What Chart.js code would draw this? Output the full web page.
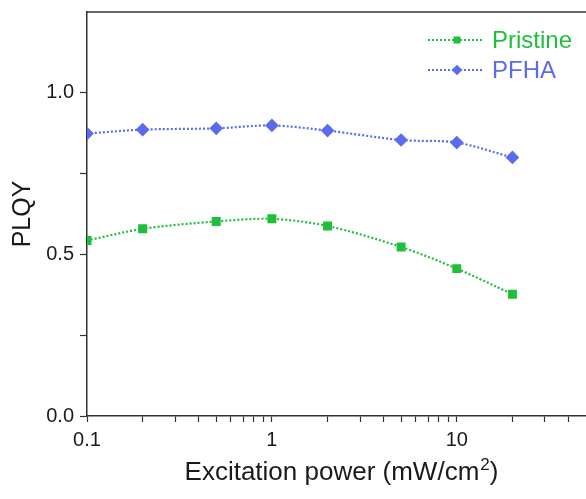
<!DOCTYPE html>
<html>
<head>
<meta charset="utf-8">
<script src="https://cdn.jsdelivr.net/npm/chart.js@4"></script>
<style>
    html, body { margin: 0; padding: 0; background: #fff; }
    #wrap { width: 586px; height: 499px; }
</style>
</head>
<body>
<div id="wrap"><canvas id="plqyChart"></canvas></div>
<script>
const power = [0.1, 0.2, 0.5, 1, 2, 5, 10, 20];
const pristine = [0.543, 0.579, 0.602, 0.610, 0.588, 0.523, 0.456, 0.377];
const pfha = [0.874, 0.886, 0.890, 0.899, 0.883, 0.854, 0.846, 0.800];
const seriesNames = ["Pristine", "PFHA"];
const yTicks = [0, 0.25, 0.5, 0.75, 1.0];
const yLabels = [0, 0.5, 1.0];
const xLabels = [0.1, 1, 10];
const xTitle = ["Excitation power (mW/cm", "2", ")"];
const yTitle = "PLQY";

const green = "#1fbf3c";
const blue = "#5b6bf0";
const axisColor = "#333";
const textColor = "#1a1a1a";
const font = "'Liberation Sans', Arial, sans-serif";

// minor ticks for the log axis: 0.1..0.9, 1..9, 10..40
const xTicks = [];
for (const dec of [0.1, 1, 10]) {
    for (let m = 1; m <= 9; m++) {
        const v = +(m * dec).toPrecision(3);
        if (v <= 40) xTicks.push(v);
    }
}

// top frame line, axis titles and the dotted legend
const framePlugin = {
    id: "frame",
    afterDraw(chart) {
        const { ctx, chartArea } = chart;
        ctx.save();
        ctx.strokeStyle = axisColor;
        ctx.lineWidth = 1.5;
        ctx.beginPath();
        ctx.moveTo(chartArea.left, chartArea.top);
        ctx.lineTo(chartArea.right + 2, chartArea.top);
        ctx.stroke();

        // x title with a real superscript
        ctx.fillStyle = textColor;
        ctx.textBaseline = "alphabetic";
        ctx.font = "26px " + font;
        const w0 = ctx.measureText(xTitle[0]).width;
        const w2 = ctx.measureText(xTitle[2]).width;
        ctx.font = "17px " + font;
        const w1 = ctx.measureText(xTitle[1]).width;
        const total = w0 + w1 + w2 + 1;
        let tx = chartArea.left + (chartArea.right - chartArea.left) * 0.51 - total / 2;
        const ty = chartArea.bottom + 64;
        ctx.font = "26px " + font;
        ctx.textAlign = "left";
        ctx.fillText(xTitle[0], tx, ty);
        tx += w0 + 1;
        ctx.font = "17px " + font;
        ctx.fillText(xTitle[1], tx, ty - 10);
        tx += w1;
        ctx.font = "26px " + font;
        ctx.fillText(xTitle[2], tx, ty);

        // y title
        ctx.save();
        ctx.translate(23, (chartArea.top + chartArea.bottom) / 2);
        ctx.rotate(-Math.PI / 2);
        ctx.textAlign = "center";
        ctx.textBaseline = "middle";
        ctx.font = "25px " + font;
        ctx.fillText(yTitle, 0, 0);
        ctx.restore();

        chart.data.datasets.forEach((ds, i) => {
            const y = chartArea.top + 28 + i * 30;
            const x0 = chartArea.right - 158;
            ctx.strokeStyle = ds.borderColor;
            ctx.lineWidth = ds.borderWidth;
            ctx.setLineDash(ds.borderDash);
            ctx.beginPath();
            ctx.moveTo(x0, y);
            ctx.lineTo(x0 + 55, y);
            ctx.stroke();
            ctx.setLineDash([]);
            ctx.fillStyle = ds.borderColor;
            ctx.beginPath();
            const cx = x0 + 29, r = ds.pointRadius;
            if (ds.pointStyle === "rect") {
                ctx.rect(cx - r * 0.72, y - r * 0.72, r * 1.44, r * 1.44);
            } else {
                ctx.moveTo(cx, y - r);
                ctx.lineTo(cx + r, y);
                ctx.lineTo(cx, y + r);
                ctx.lineTo(cx - r, y);
                ctx.closePath();
            }
            ctx.fill();
            ctx.font = "24px " + font;
            ctx.textAlign = "left";
            ctx.textBaseline = "middle";
            ctx.fillText(ds.label, x0 + 64, y + 1);
        });
        ctx.restore();
    }
};

const ctx = document.getElementById("plqyChart").getContext("2d");
new Chart(ctx, {
    type: "line",
    data: {
        datasets: [
            {
                label: seriesNames[0],
                data: power.map((p, i) => ({ x: p, y: pristine[i] })),
                borderColor: green,
                backgroundColor: green,
                borderWidth: 2.2,
                borderDash: [2, 2],
                pointStyle: "rect",
                pointRadius: 4.8,
                tension: 0.3,
                clip: 0
            },
            {
                label: seriesNames[1],
                data: power.map((p, i) => ({ x: p, y: pfha[i] })),
                borderColor: blue,
                backgroundColor: blue,
                borderWidth: 2.2,
                borderDash: [2, 2],
                pointStyle: "rectRot",
                pointRadius: 5.3,
                tension: 0.3,
                clip: 0
            }
        ]
    },
    options: {
        responsive: true,
        maintainAspectRatio: false,
        animation: false,
        layout: { autoPadding: false, padding: { top: 12, right: 0, left: 0, bottom: 0 } },
        plugins: {
            legend: { display: false },
            tooltip: { enabled: false }
        },
        scales: {
            x: {
                type: "logarithmic",
                min: 0.1,
                max: 50,
                afterBuildTicks: axis => { axis.ticks = xTicks.map(v => ({ value: v })); },
                afterFit: axis => {
                    axis.height = 83;
                    axis.paddingLeft = 0;
                    axis.paddingRight = 0;
                },
                grid: { drawOnChartArea: false, tickLength: 6, tickColor: axisColor, tickWidth: 1.2 },
                border: { color: axisColor, width: 1.5 },
                ticks: {
                    autoSkip: false,
                    maxRotation: 0,
                    color: textColor,
                    font: { size: 20, family: font },
                    padding: 6,
                    callback: v => xLabels.includes(v) ? String(v) : ""
                }
            },
            y: {
                min: 0,
                max: 1.25,
                afterBuildTicks: axis => { axis.ticks = yTicks.map(v => ({ value: v })); },
                afterFit: axis => {
                    axis.width = 87;
                    axis.paddingTop = 0;
                    axis.paddingBottom = 0;
                },
                grid: { drawOnChartArea: false, tickLength: 7, tickColor: axisColor, tickWidth: 1.2 },
                border: { color: axisColor, width: 1.5 },
                ticks: {
                    color: textColor,
                    font: { size: 20, family: font },
                    padding: 6,
                    callback: v => yLabels.includes(v) ? v.toFixed(1) : ""
                }
            }
        }
    },
    plugins: [framePlugin]
});
</script>
</body>
</html>
